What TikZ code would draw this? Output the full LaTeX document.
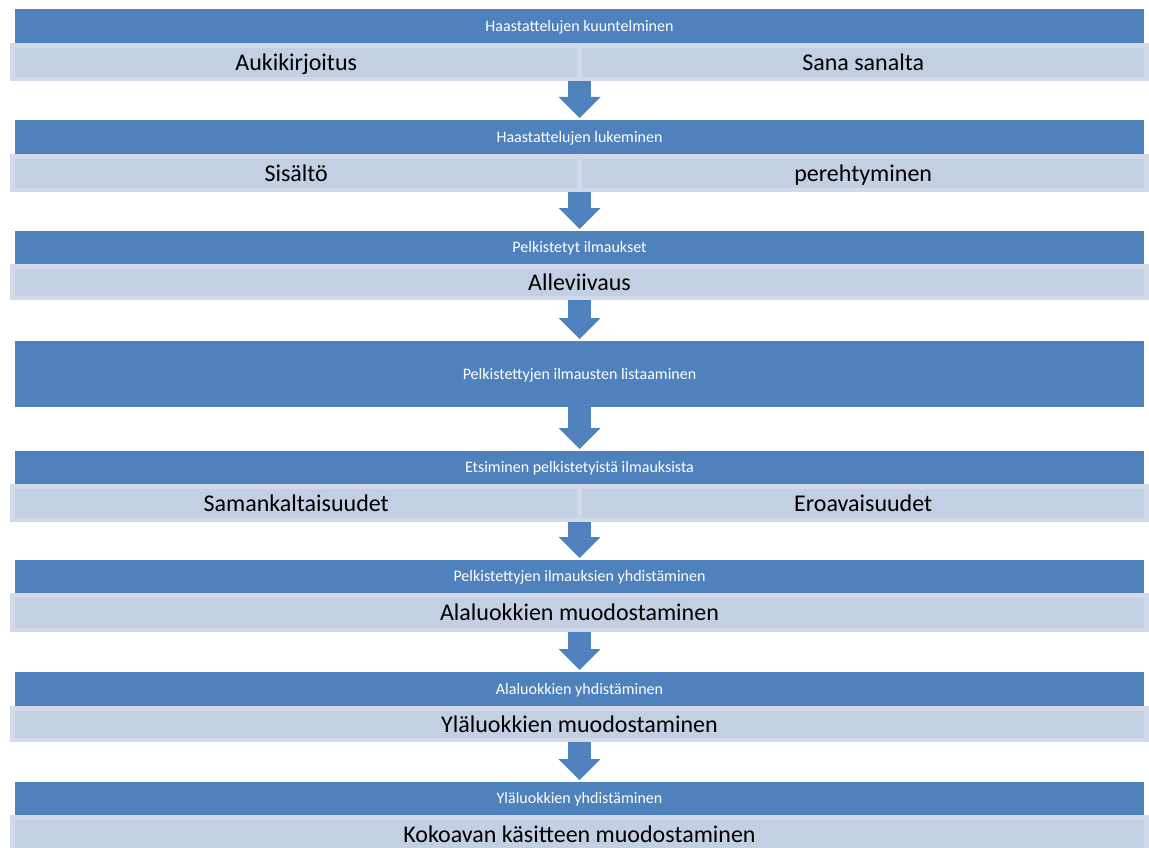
\documentclass[tikz,border=0pt]{standalone}
\usepackage{fontspec}
\setmainfont{Carlito}
\usepackage{tikz}
\usetikzlibrary{arrows.meta}
\definecolor{stageblue}{RGB}{79,129,189}
\definecolor{paleedge}{RGB}{210,218,233}
\definecolor{palefill}{RGB}{195,207,226}
\tikzset{
  stage/.style={fill=stageblue, inner sep=0pt, minimum width=1129pt,
                minimum height=34pt, text=white, font=\fontsize{16}{18}\selectfont,
                text height=12pt, text depth=1.7pt, anchor=north},
  detail/.style={fill=paleedge, inner sep=0pt, minimum width=1139pt,
                minimum height=38pt, anchor=north},
  half/.style={fill=palefill, inner sep=0pt, minimum width=562pt,
               minimum height=29pt, font=\fontsize{24}{28}\selectfont,
               text height=18pt, text depth=2.5pt, anchor=north west},
  whole/.style={fill=palefill, inner sep=0pt, minimum width=1129pt,
               minimum height=29pt, font=\fontsize{24}{28}\selectfont,
               text height=18pt, text depth=2.5pt, anchor=north},
  flow/.style={stageblue, line width=23pt, shorten >=2pt,
               -{Triangle[width=42pt, length=21pt, line width=0pt]}},
}
\begin{document}
\begin{tikzpicture}[x=1pt, y=-1pt]
  \clip (0,0) rectangle (1149,848);
  % vaihe 1
  \node[stage] (b1) at (579.5,9) {Haastattelujen kuuntelminen};
  \node[detail] (l1) at (579.5,43) {};
  \node[half] (l1a) at (15,48) {Aukikirjoitus};
  \node[half] (l1b) at (582,48) {Sana sanalta};
  % vaihe 2
  \node[stage] (b2) at (579.5,120) {Haastattelujen lukeminen};
  \node[detail] (l2) at (579.5,154) {};
  \node[half] (l2a) at (15,159) {Sisältö};
  \node[half] (l2b) at (582,159) {perehtyminen};
  % vaihe 3
  \node[stage, minimum height=33pt] (b3) at (579.5,231) {Pelkistetyt ilmaukset};
  \node[detail, minimum height=36pt] (l3) at (579.5,264) {};
  \node[whole, minimum height=27pt] (l3a) at (579.5,269) {Alleviivaus};
  % vaihe 4
  \node[stage, minimum height=66pt] (b4) at (579.5,341) {Pelkistettyjen ilmausten listaaminen};
  % vaihe 5
  \node[stage, minimum height=33pt] (b5) at (579.5,451) {Etsiminen pelkistetyistä ilmauksista};
  \node[detail] (l5) at (579.5,484) {};
  \node[half] (l5a) at (15,489) {Samankaltaisuudet};
  \node[half] (l5b) at (582,489) {Eroavaisuudet};
  % vaihe 6
  \node[stage, minimum height=33pt] (b6) at (579.5,560) {Pelkistettyjen ilmauksien yhdistäminen};
  \node[detail, minimum height=39pt] (l6) at (579.5,593) {};
  \node[whole, minimum height=30pt] (l6a) at (579.5,598) {Alaluokkien muodostaminen};
  % vaihe 7
  \node[stage] (b7) at (579.5,672) {Alaluokkien yhdistäminen};
  \node[detail, minimum height=36pt] (l7) at (579.5,706) {};
  \node[whole, minimum height=27pt] (l7a) at (579.5,711) {Yläluokkien muodostaminen};
  % vaihe 8
  \node[stage, minimum height=33pt] (b8) at (579.5,782) {Yläluokkien yhdistäminen};
  \node[detail] (l8) at (579.5,815) {};
  \node[whole] (l8a) at (579.5,820) {Kokoavan käsitteen muodostaminen};
  % nuolet
  \draw[flow] (l1.south) -- (b2.north);
  \draw[flow] (l2.south) -- (b3.north);
  \draw[flow] (l3.south) -- (b4.north);
  \draw[flow] (b4.south) -- (b5.north);
  \draw[flow] (l5.south) -- (b6.north);
  \draw[flow] (l6.south) -- (b7.north);
  \draw[flow] (l7.south) -- (b8.north);
\end{tikzpicture}
\end{document}
